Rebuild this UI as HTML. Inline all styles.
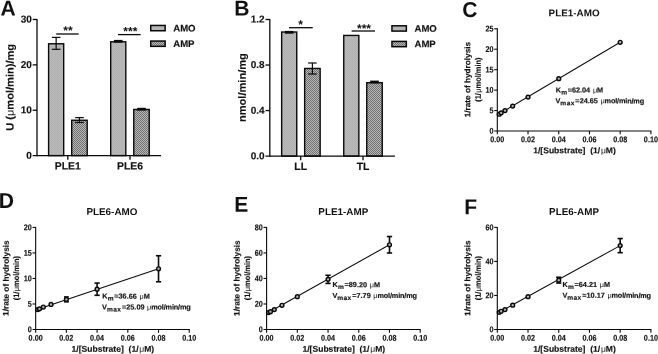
<!DOCTYPE html>
<html><head><meta charset="utf-8"><title>figure</title>
<style>
html,body{margin:0;padding:0;background:#fff;}
body{width:658px;height:354px;overflow:hidden;font-family:"Liberation Sans",sans-serif;}
svg{display:block;will-change:transform;}
svg text{font-family:"Liberation Sans",sans-serif;fill:#111;}
</style></head><body>
<svg width="658" height="354" viewBox="0 0 658 354">
<defs>
<pattern id="amo" width="2" height="2" patternUnits="userSpaceOnUse">
<rect width="2" height="2" fill="#b9b9b9"/><rect width="1" height="1" fill="#b1b1b1"/><rect x="1" y="1" width="1" height="1" fill="#b1b1b1"/>
</pattern>
<pattern id="amp" width="2" height="2" patternUnits="userSpaceOnUse">
<rect width="2" height="2" fill="#b8b8b8"/><rect width="1" height="1" fill="#707070"/><rect x="1" y="1" width="1" height="1" fill="#707070"/>
</pattern>
</defs>
<rect width="658" height="354" fill="#fff"/>

<text transform="translate(0.60,15.60) rotate(0.06) scale(0.98,1)" font-size="21.5" font-weight="bold" text-anchor="start" >A</text>
<text transform="translate(13.60,87.35) rotate(-89.94) scale(1.045,1)" font-size="10.6" font-weight="bold" text-anchor="middle" stroke="#111" stroke-width="0.15">U (<tspan font-weight="normal" stroke="none">&#956;</tspan>mol/min)/mg</text>
<rect x="48.60" y="43.77" width="15.10" height="111.83" fill="url(#amo)" stroke="#0a0a0a" stroke-width="1.4"/>
<line x1="56.15" y1="37.40" x2="56.15" y2="49.30" stroke="#0a0a0a" stroke-width="1.2" stroke-linecap="butt"/>
<line x1="51.85" y1="37.40" x2="60.45" y2="37.40" stroke="#0a0a0a" stroke-width="1.2" stroke-linecap="butt"/>
<line x1="51.85" y1="49.30" x2="60.45" y2="49.30" stroke="#0a0a0a" stroke-width="1.2" stroke-linecap="butt"/>
<rect x="71.70" y="120.26" width="15.50" height="35.34" fill="url(#amp)" stroke="#0a0a0a" stroke-width="1.4"/>
<line x1="79.45" y1="117.60" x2="79.45" y2="122.50" stroke="#0a0a0a" stroke-width="1.2" stroke-linecap="butt"/>
<line x1="75.15" y1="117.60" x2="83.75" y2="117.60" stroke="#0a0a0a" stroke-width="1.2" stroke-linecap="butt"/>
<line x1="75.15" y1="122.50" x2="83.75" y2="122.50" stroke="#0a0a0a" stroke-width="1.2" stroke-linecap="butt"/>
<rect x="110.70" y="41.78" width="15.10" height="113.82" fill="url(#amo)" stroke="#0a0a0a" stroke-width="1.4"/>
<rect x="113.95" y="39.90" width="8.6" height="2.8" fill="#0a0a0a"/>
<rect x="133.75" y="109.46" width="15.50" height="46.14" fill="url(#amp)" stroke="#0a0a0a" stroke-width="1.4"/>
<rect x="137.20" y="107.80" width="8.6" height="2.8" fill="#0a0a0a"/>
<line x1="37.00" y1="18.90" x2="37.00" y2="156.20" stroke="#0a0a0a" stroke-width="1.3" stroke-linecap="butt"/>
<line x1="32.70" y1="155.60" x2="161.10" y2="155.60" stroke="#0a0a0a" stroke-width="1.3" stroke-linecap="butt"/>
<line x1="32.70" y1="19.50" x2="37.00" y2="19.50" stroke="#0a0a0a" stroke-width="1.3" stroke-linecap="butt"/>
<text transform="translate(31.80,22.60) rotate(0.06) scale(1.0,1)" font-size="10" font-weight="bold" text-anchor="end" stroke="#111" stroke-width="0.15">30</text>
<line x1="32.70" y1="64.87" x2="37.00" y2="64.87" stroke="#0a0a0a" stroke-width="1.3" stroke-linecap="butt"/>
<text transform="translate(31.80,67.97) rotate(0.06) scale(1.0,1)" font-size="10" font-weight="bold" text-anchor="end" stroke="#111" stroke-width="0.15">20</text>
<line x1="32.70" y1="110.23" x2="37.00" y2="110.23" stroke="#0a0a0a" stroke-width="1.3" stroke-linecap="butt"/>
<text transform="translate(31.80,113.33) rotate(0.06) scale(1.0,1)" font-size="10" font-weight="bold" text-anchor="end" stroke="#111" stroke-width="0.15">10</text>
<text transform="translate(31.80,158.70) rotate(0.06) scale(1.0,1)" font-size="10" font-weight="bold" text-anchor="end" stroke="#111" stroke-width="0.15">0</text>
<line x1="67.80" y1="155.60" x2="67.80" y2="159.80" stroke="#0a0a0a" stroke-width="1.3" stroke-linecap="butt"/>
<text transform="translate(67.80,169.60) rotate(0.06) scale(1.0,1)" font-size="10.4" font-weight="bold" text-anchor="middle" stroke="#111" stroke-width="0.15">PLE1</text>
<line x1="130.00" y1="155.60" x2="130.00" y2="159.80" stroke="#0a0a0a" stroke-width="1.3" stroke-linecap="butt"/>
<text transform="translate(130.00,169.60) rotate(0.06) scale(1.0,1)" font-size="10.4" font-weight="bold" text-anchor="middle" stroke="#111" stroke-width="0.15">PLE6</text>
<line x1="56.20" y1="34.00" x2="78.70" y2="34.00" stroke="#0a0a0a" stroke-width="1.3" stroke-linecap="butt"/>
<text transform="translate(68.00,34.60) rotate(0.06) scale(1.0,1)" font-size="12" font-weight="bold" text-anchor="middle" >**</text>
<line x1="118.00" y1="34.60" x2="140.60" y2="34.60" stroke="#0a0a0a" stroke-width="1.3" stroke-linecap="butt"/>
<text transform="translate(130.30,35.20) rotate(0.06) scale(1.0,1)" font-size="12" font-weight="bold" text-anchor="middle" >***</text>
<rect x="150.75" y="25.45" width="14.4" height="5.3" fill="url(#amo)" stroke="#0a0a0a" stroke-width="1.5"/>
<rect x="150.75" y="41.05" width="14.4" height="5.3" fill="url(#amp)" stroke="#0a0a0a" stroke-width="1.5"/>
<text transform="translate(173.30,31.40) rotate(0.06) scale(1.0,1)" font-size="9.6" font-weight="bold" text-anchor="start" letter-spacing="-0.05" stroke="#111" stroke-width="0.15">AMO</text>
<text transform="translate(173.30,47.00) rotate(0.06) scale(1.0,1)" font-size="9.6" font-weight="bold" text-anchor="start" letter-spacing="-0.05" stroke="#111" stroke-width="0.15">AMP</text>
<text transform="translate(234.20,15.60) rotate(0.06) scale(0.98,1)" font-size="21.5" font-weight="bold" text-anchor="start" >B</text>
<text transform="translate(245.70,87.60) rotate(-89.94) scale(1.045,1)" font-size="10.6" font-weight="bold" text-anchor="middle" stroke="#111" stroke-width="0.15">nmol/min/mg</text>
<rect x="281.65" y="32.02" width="15.10" height="124.08" fill="url(#amo)" stroke="#0a0a0a" stroke-width="1.4"/>
<rect x="284.90" y="30.90" width="8.6" height="2.8" fill="#0a0a0a"/>
<rect x="304.65" y="68.45" width="15.50" height="87.65" fill="url(#amp)" stroke="#0a0a0a" stroke-width="1.4"/>
<line x1="312.40" y1="63.00" x2="312.40" y2="74.00" stroke="#0a0a0a" stroke-width="1.2" stroke-linecap="butt"/>
<line x1="308.10" y1="63.00" x2="316.70" y2="63.00" stroke="#0a0a0a" stroke-width="1.2" stroke-linecap="butt"/>
<line x1="308.10" y1="74.00" x2="316.70" y2="74.00" stroke="#0a0a0a" stroke-width="1.2" stroke-linecap="butt"/>
<rect x="343.75" y="35.44" width="15.10" height="120.66" fill="url(#amo)" stroke="#0a0a0a" stroke-width="1.4"/>
<rect x="366.75" y="82.68" width="15.50" height="73.42" fill="url(#amp)" stroke="#0a0a0a" stroke-width="1.4"/>
<rect x="370.20" y="80.60" width="8.6" height="2.8" fill="#0a0a0a"/>
<line x1="269.80" y1="18.90" x2="269.80" y2="156.70" stroke="#0a0a0a" stroke-width="1.3" stroke-linecap="butt"/>
<line x1="265.50" y1="156.10" x2="394.90" y2="156.10" stroke="#0a0a0a" stroke-width="1.3" stroke-linecap="butt"/>
<line x1="265.50" y1="19.50" x2="269.80" y2="19.50" stroke="#0a0a0a" stroke-width="1.3" stroke-linecap="butt"/>
<text transform="translate(264.60,22.60) rotate(0.06) scale(1.0,1)" font-size="10" font-weight="bold" text-anchor="end" stroke="#111" stroke-width="0.15">1.2</text>
<line x1="265.50" y1="65.03" x2="269.80" y2="65.03" stroke="#0a0a0a" stroke-width="1.3" stroke-linecap="butt"/>
<text transform="translate(264.60,68.13) rotate(0.06) scale(1.0,1)" font-size="10" font-weight="bold" text-anchor="end" stroke="#111" stroke-width="0.15">0.8</text>
<line x1="265.50" y1="110.57" x2="269.80" y2="110.57" stroke="#0a0a0a" stroke-width="1.3" stroke-linecap="butt"/>
<text transform="translate(264.60,113.67) rotate(0.06) scale(1.0,1)" font-size="10" font-weight="bold" text-anchor="end" stroke="#111" stroke-width="0.15">0.4</text>
<text transform="translate(264.60,159.20) rotate(0.06) scale(1.0,1)" font-size="10" font-weight="bold" text-anchor="end" stroke="#111" stroke-width="0.15">0.0</text>
<line x1="300.70" y1="156.10" x2="300.70" y2="160.30" stroke="#0a0a0a" stroke-width="1.3" stroke-linecap="butt"/>
<text transform="translate(300.70,170.10) rotate(0.06) scale(1.0,1)" font-size="10.4" font-weight="bold" text-anchor="middle" stroke="#111" stroke-width="0.15">LL</text>
<line x1="363.00" y1="156.10" x2="363.00" y2="160.30" stroke="#0a0a0a" stroke-width="1.3" stroke-linecap="butt"/>
<text transform="translate(363.00,170.10) rotate(0.06) scale(1.0,1)" font-size="10.4" font-weight="bold" text-anchor="middle" stroke="#111" stroke-width="0.15">TL</text>
<line x1="289.00" y1="27.70" x2="312.70" y2="27.70" stroke="#0a0a0a" stroke-width="1.3" stroke-linecap="butt"/>
<text transform="translate(300.60,28.60) rotate(0.06) scale(1.0,1)" font-size="12" font-weight="bold" text-anchor="middle" >*</text>
<line x1="351.60" y1="31.00" x2="375.00" y2="31.00" stroke="#0a0a0a" stroke-width="1.3" stroke-linecap="butt"/>
<text transform="translate(364.00,32.40) rotate(0.06) scale(1.0,1)" font-size="12" font-weight="bold" text-anchor="middle" >***</text>
<rect x="391.95" y="25.80" width="14.4" height="5.3" fill="url(#amo)" stroke="#0a0a0a" stroke-width="1.5"/>
<rect x="391.95" y="41.40" width="14.4" height="5.3" fill="url(#amp)" stroke="#0a0a0a" stroke-width="1.5"/>
<text transform="translate(414.50,31.75) rotate(0.06) scale(1.0,1)" font-size="9.6" font-weight="bold" text-anchor="start" letter-spacing="-0.05" stroke="#111" stroke-width="0.15">AMO</text>
<text transform="translate(414.50,47.35) rotate(0.06) scale(1.0,1)" font-size="9.6" font-weight="bold" text-anchor="start" letter-spacing="-0.05" stroke="#111" stroke-width="0.15">AMP</text>
<text transform="translate(462.30,17.10) rotate(0.06) scale(0.98,1)" font-size="21.5" font-weight="bold" text-anchor="start" >C</text>
<text transform="translate(574.10,16.30) rotate(0.06) scale(1.02,1)" font-size="9.7" font-weight="bold" text-anchor="middle" >PLE1-AMO</text>
<text transform="translate(470.30,79.60) rotate(-89.94) scale(1.03,1)" font-size="8.0" font-weight="bold" text-anchor="middle" stroke="#111" stroke-width="0.15">1/rate of hydrolysis</text>
<text transform="translate(480.70,79.60) rotate(-89.94) scale(0.93,1)" font-size="8.0" font-weight="bold" text-anchor="middle" stroke="#111" stroke-width="0.15">(1/<tspan font-weight="normal" stroke="none" dx="0.4">&#956;</tspan>mol/min)</text>
<line x1="497.30" y1="115.06" x2="620.18" y2="42.29" stroke="#0a0a0a" stroke-width="1.05" stroke-linecap="butt"/>
<circle cx="499.22" cy="114.24" r="1.9" fill="#b4b4b4" stroke="#0a0a0a" stroke-width="1.45"/>
<circle cx="501.14" cy="112.81" r="1.9" fill="#b4b4b4" stroke="#0a0a0a" stroke-width="1.45"/>
<circle cx="504.98" cy="110.56" r="1.9" fill="#b4b4b4" stroke="#0a0a0a" stroke-width="1.45"/>
<circle cx="512.66" cy="106.06" r="1.9" fill="#b4b4b4" stroke="#0a0a0a" stroke-width="1.45"/>
<circle cx="528.02" cy="97.07" r="1.9" fill="#b4b4b4" stroke="#0a0a0a" stroke-width="1.45"/>
<circle cx="558.74" cy="78.67" r="1.9" fill="#b4b4b4" stroke="#0a0a0a" stroke-width="1.45"/>
<circle cx="620.18" cy="42.29" r="1.9" fill="#b4b4b4" stroke="#0a0a0a" stroke-width="1.45"/>
<line x1="497.30" y1="28.30" x2="497.30" y2="134.30" stroke="#0a0a0a" stroke-width="1.1" stroke-linecap="butt"/>
<line x1="494.20" y1="131.00" x2="651.40" y2="131.00" stroke="#0a0a0a" stroke-width="1.2" stroke-linecap="butt"/>
<line x1="494.20" y1="28.80" x2="497.30" y2="28.80" stroke="#0a0a0a" stroke-width="1.1" stroke-linecap="butt"/>
<text transform="translate(493.50,31.55) rotate(0.06) scale(0.86,1)" font-size="8.4" font-weight="bold" text-anchor="end" stroke="#111" stroke-width="0.15">25</text>
<line x1="494.20" y1="49.24" x2="497.30" y2="49.24" stroke="#0a0a0a" stroke-width="1.1" stroke-linecap="butt"/>
<text transform="translate(493.50,51.99) rotate(0.06) scale(0.86,1)" font-size="8.4" font-weight="bold" text-anchor="end" stroke="#111" stroke-width="0.15">20</text>
<line x1="494.20" y1="69.68" x2="497.30" y2="69.68" stroke="#0a0a0a" stroke-width="1.1" stroke-linecap="butt"/>
<text transform="translate(493.50,72.43) rotate(0.06) scale(0.86,1)" font-size="8.4" font-weight="bold" text-anchor="end" stroke="#111" stroke-width="0.15">15</text>
<line x1="494.20" y1="90.12" x2="497.30" y2="90.12" stroke="#0a0a0a" stroke-width="1.1" stroke-linecap="butt"/>
<text transform="translate(493.50,92.87) rotate(0.06) scale(0.86,1)" font-size="8.4" font-weight="bold" text-anchor="end" stroke="#111" stroke-width="0.15">10</text>
<line x1="494.20" y1="110.56" x2="497.30" y2="110.56" stroke="#0a0a0a" stroke-width="1.1" stroke-linecap="butt"/>
<text transform="translate(493.50,113.31) rotate(0.06) scale(0.86,1)" font-size="8.4" font-weight="bold" text-anchor="end" stroke="#111" stroke-width="0.15">5</text>
<text transform="translate(493.50,133.75) rotate(0.06) scale(0.86,1)" font-size="8.4" font-weight="bold" text-anchor="end" stroke="#111" stroke-width="0.15">0</text>
<text transform="translate(497.30,142.30) rotate(0.06) scale(0.86,1)" font-size="8.4" font-weight="bold" text-anchor="middle" stroke="#111" stroke-width="0.15">0.00</text>
<line x1="528.02" y1="131.00" x2="528.02" y2="134.30" stroke="#0a0a0a" stroke-width="1.1" stroke-linecap="butt"/>
<text transform="translate(528.02,142.30) rotate(0.06) scale(0.86,1)" font-size="8.4" font-weight="bold" text-anchor="middle" stroke="#111" stroke-width="0.15">0.02</text>
<line x1="558.74" y1="131.00" x2="558.74" y2="134.30" stroke="#0a0a0a" stroke-width="1.1" stroke-linecap="butt"/>
<text transform="translate(558.74,142.30) rotate(0.06) scale(0.86,1)" font-size="8.4" font-weight="bold" text-anchor="middle" stroke="#111" stroke-width="0.15">0.04</text>
<line x1="589.46" y1="131.00" x2="589.46" y2="134.30" stroke="#0a0a0a" stroke-width="1.1" stroke-linecap="butt"/>
<text transform="translate(589.46,142.30) rotate(0.06) scale(0.86,1)" font-size="8.4" font-weight="bold" text-anchor="middle" stroke="#111" stroke-width="0.15">0.06</text>
<line x1="620.18" y1="131.00" x2="620.18" y2="134.30" stroke="#0a0a0a" stroke-width="1.1" stroke-linecap="butt"/>
<text transform="translate(620.18,142.30) rotate(0.06) scale(0.86,1)" font-size="8.4" font-weight="bold" text-anchor="middle" stroke="#111" stroke-width="0.15">0.08</text>
<line x1="650.90" y1="131.00" x2="650.90" y2="134.30" stroke="#0a0a0a" stroke-width="1.1" stroke-linecap="butt"/>
<text transform="translate(650.90,142.30) rotate(0.06) scale(0.86,1)" font-size="8.4" font-weight="bold" text-anchor="middle" stroke="#111" stroke-width="0.15">0.10</text>
<text transform="translate(574.50,153.20) rotate(0.06) scale(1.02,1)" font-size="8.4" font-weight="bold" text-anchor="middle" stroke="#111" stroke-width="0.15">1/[Substrate]&#160;&#160;(1/<tspan font-weight="normal" stroke="none" dx="0.7">&#956;</tspan>M)</text>
<text transform="translate(555.70,92.50) rotate(0.06)" font-size="7.3" font-weight="bold" stroke="#111" stroke-width="0.16">K<tspan font-size="6.6" dy="2.0" dx="0.2" letter-spacing="0">m</tspan><tspan dy="-2.0" dx="0.6">=62.04</tspan><tspan font-weight="normal" stroke="none" dx="2.7">&#956;</tspan><tspan dx="0.0" letter-spacing="0">M</tspan></text>
<text transform="translate(555.50,103.30) rotate(0.06)" font-size="7.3" font-weight="bold" stroke="#111" stroke-width="0.16">V<tspan font-size="6.6" dy="2.0" dx="0.0" letter-spacing="0.4">max</tspan><tspan dy="-2.0" dx="0.6">=24.65</tspan><tspan font-weight="normal" stroke="none" dx="2.6">&#956;</tspan><tspan dx="-0.1" letter-spacing="-0.16">mol/min/mg</tspan></text>
<text transform="translate(-1.20,208.10) rotate(0.06) scale(0.98,1)" font-size="21.5" font-weight="bold" text-anchor="start" >D</text>
<text transform="translate(111.90,214.90) rotate(0.06) scale(1.02,1)" font-size="9.7" font-weight="bold" text-anchor="middle" >PLE6-AMO</text>
<text transform="translate(8.65,278.15) rotate(-89.94) scale(1.03,1)" font-size="8.0" font-weight="bold" text-anchor="middle" stroke="#111" stroke-width="0.15">1/rate of hydrolysis</text>
<text transform="translate(19.05,278.15) rotate(-89.94) scale(0.93,1)" font-size="8.0" font-weight="bold" text-anchor="middle" stroke="#111" stroke-width="0.15">(1/<tspan font-weight="normal" stroke="none" dx="0.4">&#956;</tspan>mol/min)</text>
<line x1="35.65" y1="310.10" x2="158.53" y2="268.75" stroke="#0a0a0a" stroke-width="1.05" stroke-linecap="butt"/>
<circle cx="37.57" cy="309.59" r="1.9" fill="#b4b4b4" stroke="#0a0a0a" stroke-width="1.45"/>
<circle cx="39.49" cy="308.82" r="1.9" fill="#b4b4b4" stroke="#0a0a0a" stroke-width="1.45"/>
<circle cx="43.33" cy="307.04" r="1.9" fill="#b4b4b4" stroke="#0a0a0a" stroke-width="1.45"/>
<circle cx="51.01" cy="304.49" r="1.9" fill="#b4b4b4" stroke="#0a0a0a" stroke-width="1.45"/>
<line x1="66.37" y1="296.93" x2="66.37" y2="301.83" stroke="#0a0a0a" stroke-width="1.6" stroke-linecap="butt"/>
<line x1="63.97" y1="296.93" x2="68.77" y2="296.93" stroke="#0a0a0a" stroke-width="1.6" stroke-linecap="butt"/>
<line x1="63.97" y1="301.83" x2="68.77" y2="301.83" stroke="#0a0a0a" stroke-width="1.6" stroke-linecap="butt"/>
<circle cx="66.37" cy="299.38" r="1.9" fill="#b4b4b4" stroke="#0a0a0a" stroke-width="1.45"/>
<line x1="97.09" y1="283.04" x2="97.09" y2="295.30" stroke="#0a0a0a" stroke-width="1.6" stroke-linecap="butt"/>
<line x1="94.44" y1="283.04" x2="99.74" y2="283.04" stroke="#0a0a0a" stroke-width="1.6" stroke-linecap="butt"/>
<line x1="94.44" y1="295.30" x2="99.74" y2="295.30" stroke="#0a0a0a" stroke-width="1.6" stroke-linecap="butt"/>
<circle cx="97.09" cy="289.17" r="1.9" fill="#b4b4b4" stroke="#0a0a0a" stroke-width="1.45"/>
<line x1="158.53" y1="255.73" x2="158.53" y2="281.77" stroke="#0a0a0a" stroke-width="1.6" stroke-linecap="butt"/>
<line x1="155.88" y1="255.73" x2="161.18" y2="255.73" stroke="#0a0a0a" stroke-width="1.6" stroke-linecap="butt"/>
<line x1="155.88" y1="281.77" x2="161.18" y2="281.77" stroke="#0a0a0a" stroke-width="1.6" stroke-linecap="butt"/>
<circle cx="158.53" cy="268.75" r="1.9" fill="#b4b4b4" stroke="#0a0a0a" stroke-width="1.45"/>
<line x1="35.65" y1="226.90" x2="35.65" y2="332.80" stroke="#0a0a0a" stroke-width="1.1" stroke-linecap="butt"/>
<line x1="32.55" y1="329.50" x2="189.75" y2="329.50" stroke="#0a0a0a" stroke-width="1.2" stroke-linecap="butt"/>
<line x1="32.55" y1="227.40" x2="35.65" y2="227.40" stroke="#0a0a0a" stroke-width="1.1" stroke-linecap="butt"/>
<text transform="translate(31.85,230.15) rotate(0.06) scale(0.86,1)" font-size="8.4" font-weight="bold" text-anchor="end" stroke="#111" stroke-width="0.15">20</text>
<line x1="32.55" y1="252.93" x2="35.65" y2="252.93" stroke="#0a0a0a" stroke-width="1.1" stroke-linecap="butt"/>
<text transform="translate(31.85,255.68) rotate(0.06) scale(0.86,1)" font-size="8.4" font-weight="bold" text-anchor="end" stroke="#111" stroke-width="0.15">15</text>
<line x1="32.55" y1="278.45" x2="35.65" y2="278.45" stroke="#0a0a0a" stroke-width="1.1" stroke-linecap="butt"/>
<text transform="translate(31.85,281.20) rotate(0.06) scale(0.86,1)" font-size="8.4" font-weight="bold" text-anchor="end" stroke="#111" stroke-width="0.15">10</text>
<line x1="32.55" y1="303.98" x2="35.65" y2="303.98" stroke="#0a0a0a" stroke-width="1.1" stroke-linecap="butt"/>
<text transform="translate(31.85,306.73) rotate(0.06) scale(0.86,1)" font-size="8.4" font-weight="bold" text-anchor="end" stroke="#111" stroke-width="0.15">5</text>
<text transform="translate(31.85,332.25) rotate(0.06) scale(0.86,1)" font-size="8.4" font-weight="bold" text-anchor="end" stroke="#111" stroke-width="0.15">0</text>
<text transform="translate(35.65,340.80) rotate(0.06) scale(0.86,1)" font-size="8.4" font-weight="bold" text-anchor="middle" stroke="#111" stroke-width="0.15">0.00</text>
<line x1="66.37" y1="329.50" x2="66.37" y2="332.80" stroke="#0a0a0a" stroke-width="1.1" stroke-linecap="butt"/>
<text transform="translate(66.37,340.80) rotate(0.06) scale(0.86,1)" font-size="8.4" font-weight="bold" text-anchor="middle" stroke="#111" stroke-width="0.15">0.02</text>
<line x1="97.09" y1="329.50" x2="97.09" y2="332.80" stroke="#0a0a0a" stroke-width="1.1" stroke-linecap="butt"/>
<text transform="translate(97.09,340.80) rotate(0.06) scale(0.86,1)" font-size="8.4" font-weight="bold" text-anchor="middle" stroke="#111" stroke-width="0.15">0.04</text>
<line x1="127.81" y1="329.50" x2="127.81" y2="332.80" stroke="#0a0a0a" stroke-width="1.1" stroke-linecap="butt"/>
<text transform="translate(127.81,340.80) rotate(0.06) scale(0.86,1)" font-size="8.4" font-weight="bold" text-anchor="middle" stroke="#111" stroke-width="0.15">0.06</text>
<line x1="158.53" y1="329.50" x2="158.53" y2="332.80" stroke="#0a0a0a" stroke-width="1.1" stroke-linecap="butt"/>
<text transform="translate(158.53,340.80) rotate(0.06) scale(0.86,1)" font-size="8.4" font-weight="bold" text-anchor="middle" stroke="#111" stroke-width="0.15">0.08</text>
<line x1="189.25" y1="329.50" x2="189.25" y2="332.80" stroke="#0a0a0a" stroke-width="1.1" stroke-linecap="butt"/>
<text transform="translate(189.25,340.80) rotate(0.06) scale(0.86,1)" font-size="8.4" font-weight="bold" text-anchor="middle" stroke="#111" stroke-width="0.15">0.10</text>
<text transform="translate(112.85,351.70) rotate(0.06) scale(1.02,1)" font-size="8.4" font-weight="bold" text-anchor="middle" stroke="#111" stroke-width="0.15">1/[Substrate]&#160;&#160;(1/<tspan font-weight="normal" stroke="none" dx="0.7">&#956;</tspan>M)</text>
<text transform="translate(102.30,298.60) rotate(0.06)" font-size="7.3" font-weight="bold" stroke="#111" stroke-width="0.16">K<tspan font-size="6.6" dy="2.0" dx="0.2" letter-spacing="0">m</tspan><tspan dy="-2.0" dx="0.6">=36.66</tspan><tspan font-weight="normal" stroke="none" dx="2.7">&#956;</tspan><tspan dx="0.0" letter-spacing="0">M</tspan></text>
<text transform="translate(102.10,309.40) rotate(0.06)" font-size="7.3" font-weight="bold" stroke="#111" stroke-width="0.16">V<tspan font-size="6.6" dy="2.0" dx="0.0" letter-spacing="0.4">max</tspan><tspan dy="-2.0" dx="0.6">=25.09</tspan><tspan font-weight="normal" stroke="none" dx="2.6">&#956;</tspan><tspan dx="-0.1" letter-spacing="-0.16">mol/min/mg</tspan></text>
<text transform="translate(234.20,211.80) rotate(0.06) scale(0.98,1)" font-size="21.5" font-weight="bold" text-anchor="start" >E</text>
<text transform="translate(343.30,214.90) rotate(0.06) scale(1.02,1)" font-size="9.7" font-weight="bold" text-anchor="middle" >PLE1-AMP</text>
<text transform="translate(239.60,278.15) rotate(-89.94) scale(1.03,1)" font-size="8.0" font-weight="bold" text-anchor="middle" stroke="#111" stroke-width="0.15">1/rate of hydrolysis</text>
<text transform="translate(250.00,278.15) rotate(-89.94) scale(0.93,1)" font-size="8.0" font-weight="bold" text-anchor="middle" stroke="#111" stroke-width="0.15">(1/<tspan font-weight="normal" stroke="none" dx="0.4">&#956;</tspan>mol/min)</text>
<line x1="266.60" y1="313.42" x2="389.48" y2="244.76" stroke="#0a0a0a" stroke-width="1.05" stroke-linecap="butt"/>
<circle cx="268.52" cy="312.53" r="1.9" fill="#b4b4b4" stroke="#0a0a0a" stroke-width="1.45"/>
<circle cx="270.44" cy="311.63" r="1.9" fill="#b4b4b4" stroke="#0a0a0a" stroke-width="1.45"/>
<circle cx="274.28" cy="309.59" r="1.9" fill="#b4b4b4" stroke="#0a0a0a" stroke-width="1.45"/>
<circle cx="281.96" cy="305.25" r="1.9" fill="#b4b4b4" stroke="#0a0a0a" stroke-width="1.45"/>
<circle cx="297.32" cy="296.70" r="1.9" fill="#b4b4b4" stroke="#0a0a0a" stroke-width="1.45"/>
<line x1="328.04" y1="275.26" x2="328.04" y2="283.43" stroke="#0a0a0a" stroke-width="1.6" stroke-linecap="butt"/>
<line x1="325.39" y1="275.26" x2="330.69" y2="275.26" stroke="#0a0a0a" stroke-width="1.6" stroke-linecap="butt"/>
<line x1="325.39" y1="283.43" x2="330.69" y2="283.43" stroke="#0a0a0a" stroke-width="1.6" stroke-linecap="butt"/>
<circle cx="328.04" cy="279.34" r="1.9" fill="#b4b4b4" stroke="#0a0a0a" stroke-width="1.45"/>
<line x1="389.48" y1="236.53" x2="389.48" y2="252.99" stroke="#0a0a0a" stroke-width="1.6" stroke-linecap="butt"/>
<line x1="386.83" y1="236.53" x2="392.13" y2="236.53" stroke="#0a0a0a" stroke-width="1.6" stroke-linecap="butt"/>
<line x1="386.83" y1="252.99" x2="392.13" y2="252.99" stroke="#0a0a0a" stroke-width="1.6" stroke-linecap="butt"/>
<circle cx="389.48" cy="244.76" r="1.9" fill="#b4b4b4" stroke="#0a0a0a" stroke-width="1.45"/>
<line x1="266.60" y1="226.90" x2="266.60" y2="332.80" stroke="#0a0a0a" stroke-width="1.1" stroke-linecap="butt"/>
<line x1="263.50" y1="329.50" x2="420.70" y2="329.50" stroke="#0a0a0a" stroke-width="1.2" stroke-linecap="butt"/>
<line x1="263.50" y1="227.40" x2="266.60" y2="227.40" stroke="#0a0a0a" stroke-width="1.1" stroke-linecap="butt"/>
<text transform="translate(262.80,230.15) rotate(0.06) scale(0.86,1)" font-size="8.4" font-weight="bold" text-anchor="end" stroke="#111" stroke-width="0.15">80</text>
<line x1="263.50" y1="252.93" x2="266.60" y2="252.93" stroke="#0a0a0a" stroke-width="1.1" stroke-linecap="butt"/>
<text transform="translate(262.80,255.68) rotate(0.06) scale(0.86,1)" font-size="8.4" font-weight="bold" text-anchor="end" stroke="#111" stroke-width="0.15">60</text>
<line x1="263.50" y1="278.45" x2="266.60" y2="278.45" stroke="#0a0a0a" stroke-width="1.1" stroke-linecap="butt"/>
<text transform="translate(262.80,281.20) rotate(0.06) scale(0.86,1)" font-size="8.4" font-weight="bold" text-anchor="end" stroke="#111" stroke-width="0.15">40</text>
<line x1="263.50" y1="303.98" x2="266.60" y2="303.98" stroke="#0a0a0a" stroke-width="1.1" stroke-linecap="butt"/>
<text transform="translate(262.80,306.73) rotate(0.06) scale(0.86,1)" font-size="8.4" font-weight="bold" text-anchor="end" stroke="#111" stroke-width="0.15">20</text>
<text transform="translate(262.80,332.25) rotate(0.06) scale(0.86,1)" font-size="8.4" font-weight="bold" text-anchor="end" stroke="#111" stroke-width="0.15">0</text>
<text transform="translate(266.60,340.80) rotate(0.06) scale(0.86,1)" font-size="8.4" font-weight="bold" text-anchor="middle" stroke="#111" stroke-width="0.15">0.00</text>
<line x1="297.32" y1="329.50" x2="297.32" y2="332.80" stroke="#0a0a0a" stroke-width="1.1" stroke-linecap="butt"/>
<text transform="translate(297.32,340.80) rotate(0.06) scale(0.86,1)" font-size="8.4" font-weight="bold" text-anchor="middle" stroke="#111" stroke-width="0.15">0.02</text>
<line x1="328.04" y1="329.50" x2="328.04" y2="332.80" stroke="#0a0a0a" stroke-width="1.1" stroke-linecap="butt"/>
<text transform="translate(328.04,340.80) rotate(0.06) scale(0.86,1)" font-size="8.4" font-weight="bold" text-anchor="middle" stroke="#111" stroke-width="0.15">0.04</text>
<line x1="358.76" y1="329.50" x2="358.76" y2="332.80" stroke="#0a0a0a" stroke-width="1.1" stroke-linecap="butt"/>
<text transform="translate(358.76,340.80) rotate(0.06) scale(0.86,1)" font-size="8.4" font-weight="bold" text-anchor="middle" stroke="#111" stroke-width="0.15">0.06</text>
<line x1="389.48" y1="329.50" x2="389.48" y2="332.80" stroke="#0a0a0a" stroke-width="1.1" stroke-linecap="butt"/>
<text transform="translate(389.48,340.80) rotate(0.06) scale(0.86,1)" font-size="8.4" font-weight="bold" text-anchor="middle" stroke="#111" stroke-width="0.15">0.08</text>
<line x1="420.20" y1="329.50" x2="420.20" y2="332.80" stroke="#0a0a0a" stroke-width="1.1" stroke-linecap="butt"/>
<text transform="translate(420.20,340.80) rotate(0.06) scale(0.86,1)" font-size="8.4" font-weight="bold" text-anchor="middle" stroke="#111" stroke-width="0.15">0.10</text>
<text transform="translate(343.80,351.70) rotate(0.06) scale(1.02,1)" font-size="8.4" font-weight="bold" text-anchor="middle" stroke="#111" stroke-width="0.15">1/[Substrate]&#160;&#160;(1/<tspan font-weight="normal" stroke="none" dx="0.7">&#956;</tspan>M)</text>
<text transform="translate(332.60,287.10) rotate(0.06)" font-size="7.3" font-weight="bold" stroke="#111" stroke-width="0.16">K<tspan font-size="6.6" dy="2.0" dx="0.2" letter-spacing="0">m</tspan><tspan dy="-2.0" dx="0.6">=89.20</tspan><tspan font-weight="normal" stroke="none" dx="2.7">&#956;</tspan><tspan dx="0.0" letter-spacing="0">M</tspan></text>
<text transform="translate(332.40,297.90) rotate(0.06)" font-size="7.3" font-weight="bold" stroke="#111" stroke-width="0.16">V<tspan font-size="6.6" dy="2.0" dx="0.0" letter-spacing="0.4">max</tspan><tspan dy="-2.0" dx="0.6">=7.79</tspan><tspan font-weight="normal" stroke="none" dx="2.6">&#956;</tspan><tspan dx="-0.1" letter-spacing="-0.16">mol/min/mg</tspan></text>
<text transform="translate(464.20,214.20) rotate(0.06) scale(0.98,1)" font-size="21.5" font-weight="bold" text-anchor="start" >F</text>
<text transform="translate(574.10,214.90) rotate(0.06) scale(1.02,1)" font-size="9.7" font-weight="bold" text-anchor="middle" >PLE6-AMP</text>
<text transform="translate(470.30,278.15) rotate(-89.94) scale(1.03,1)" font-size="8.0" font-weight="bold" text-anchor="middle" stroke="#111" stroke-width="0.15">1/rate of hydrolysis</text>
<text transform="translate(480.70,278.15) rotate(-89.94) scale(0.93,1)" font-size="8.0" font-weight="bold" text-anchor="middle" stroke="#111" stroke-width="0.15">(1/<tspan font-weight="normal" stroke="none" dx="0.4">&#956;</tspan>mol/min)</text>
<line x1="497.30" y1="313.33" x2="620.18" y2="245.61" stroke="#0a0a0a" stroke-width="1.05" stroke-linecap="butt"/>
<circle cx="499.22" cy="312.31" r="1.9" fill="#b4b4b4" stroke="#0a0a0a" stroke-width="1.45"/>
<circle cx="501.14" cy="311.29" r="1.9" fill="#b4b4b4" stroke="#0a0a0a" stroke-width="1.45"/>
<circle cx="504.98" cy="309.59" r="1.9" fill="#b4b4b4" stroke="#0a0a0a" stroke-width="1.45"/>
<circle cx="512.66" cy="305.17" r="1.9" fill="#b4b4b4" stroke="#0a0a0a" stroke-width="1.45"/>
<circle cx="528.02" cy="296.66" r="1.9" fill="#b4b4b4" stroke="#0a0a0a" stroke-width="1.45"/>
<line x1="558.74" y1="277.26" x2="558.74" y2="283.04" stroke="#0a0a0a" stroke-width="1.6" stroke-linecap="butt"/>
<line x1="556.09" y1="277.26" x2="561.39" y2="277.26" stroke="#0a0a0a" stroke-width="1.6" stroke-linecap="butt"/>
<line x1="556.09" y1="283.04" x2="561.39" y2="283.04" stroke="#0a0a0a" stroke-width="1.6" stroke-linecap="butt"/>
<circle cx="558.74" cy="280.15" r="1.9" fill="#b4b4b4" stroke="#0a0a0a" stroke-width="1.45"/>
<line x1="620.18" y1="238.55" x2="620.18" y2="252.67" stroke="#0a0a0a" stroke-width="1.6" stroke-linecap="butt"/>
<line x1="617.53" y1="238.55" x2="622.83" y2="238.55" stroke="#0a0a0a" stroke-width="1.6" stroke-linecap="butt"/>
<line x1="617.53" y1="252.67" x2="622.83" y2="252.67" stroke="#0a0a0a" stroke-width="1.6" stroke-linecap="butt"/>
<circle cx="620.18" cy="245.61" r="1.9" fill="#b4b4b4" stroke="#0a0a0a" stroke-width="1.45"/>
<line x1="497.30" y1="226.90" x2="497.30" y2="332.80" stroke="#0a0a0a" stroke-width="1.1" stroke-linecap="butt"/>
<line x1="494.20" y1="329.50" x2="651.40" y2="329.50" stroke="#0a0a0a" stroke-width="1.2" stroke-linecap="butt"/>
<line x1="494.20" y1="227.40" x2="497.30" y2="227.40" stroke="#0a0a0a" stroke-width="1.1" stroke-linecap="butt"/>
<text transform="translate(493.50,230.15) rotate(0.06) scale(0.86,1)" font-size="8.4" font-weight="bold" text-anchor="end" stroke="#111" stroke-width="0.15">60</text>
<line x1="494.20" y1="261.43" x2="497.30" y2="261.43" stroke="#0a0a0a" stroke-width="1.1" stroke-linecap="butt"/>
<text transform="translate(493.50,264.18) rotate(0.06) scale(0.86,1)" font-size="8.4" font-weight="bold" text-anchor="end" stroke="#111" stroke-width="0.15">40</text>
<line x1="494.20" y1="295.47" x2="497.30" y2="295.47" stroke="#0a0a0a" stroke-width="1.1" stroke-linecap="butt"/>
<text transform="translate(493.50,298.22) rotate(0.06) scale(0.86,1)" font-size="8.4" font-weight="bold" text-anchor="end" stroke="#111" stroke-width="0.15">20</text>
<text transform="translate(493.50,332.25) rotate(0.06) scale(0.86,1)" font-size="8.4" font-weight="bold" text-anchor="end" stroke="#111" stroke-width="0.15">0</text>
<text transform="translate(497.30,340.80) rotate(0.06) scale(0.86,1)" font-size="8.4" font-weight="bold" text-anchor="middle" stroke="#111" stroke-width="0.15">0.00</text>
<line x1="528.02" y1="329.50" x2="528.02" y2="332.80" stroke="#0a0a0a" stroke-width="1.1" stroke-linecap="butt"/>
<text transform="translate(528.02,340.80) rotate(0.06) scale(0.86,1)" font-size="8.4" font-weight="bold" text-anchor="middle" stroke="#111" stroke-width="0.15">0.02</text>
<line x1="558.74" y1="329.50" x2="558.74" y2="332.80" stroke="#0a0a0a" stroke-width="1.1" stroke-linecap="butt"/>
<text transform="translate(558.74,340.80) rotate(0.06) scale(0.86,1)" font-size="8.4" font-weight="bold" text-anchor="middle" stroke="#111" stroke-width="0.15">0.04</text>
<line x1="589.46" y1="329.50" x2="589.46" y2="332.80" stroke="#0a0a0a" stroke-width="1.1" stroke-linecap="butt"/>
<text transform="translate(589.46,340.80) rotate(0.06) scale(0.86,1)" font-size="8.4" font-weight="bold" text-anchor="middle" stroke="#111" stroke-width="0.15">0.06</text>
<line x1="620.18" y1="329.50" x2="620.18" y2="332.80" stroke="#0a0a0a" stroke-width="1.1" stroke-linecap="butt"/>
<text transform="translate(620.18,340.80) rotate(0.06) scale(0.86,1)" font-size="8.4" font-weight="bold" text-anchor="middle" stroke="#111" stroke-width="0.15">0.08</text>
<line x1="650.90" y1="329.50" x2="650.90" y2="332.80" stroke="#0a0a0a" stroke-width="1.1" stroke-linecap="butt"/>
<text transform="translate(650.90,340.80) rotate(0.06) scale(0.86,1)" font-size="8.4" font-weight="bold" text-anchor="middle" stroke="#111" stroke-width="0.15">0.10</text>
<text transform="translate(574.50,351.70) rotate(0.06) scale(1.02,1)" font-size="8.4" font-weight="bold" text-anchor="middle" stroke="#111" stroke-width="0.15">1/[Substrate]&#160;&#160;(1/<tspan font-weight="normal" stroke="none" dx="0.7">&#956;</tspan>M)</text>
<text transform="translate(562.60,287.00) rotate(0.06)" font-size="7.3" font-weight="bold" stroke="#111" stroke-width="0.16">K<tspan font-size="6.6" dy="2.0" dx="0.2" letter-spacing="0">m</tspan><tspan dy="-2.0" dx="0.6">=64.21</tspan><tspan font-weight="normal" stroke="none" dx="2.7">&#956;</tspan><tspan dx="0.0" letter-spacing="0">M</tspan></text>
<text transform="translate(562.40,297.80) rotate(0.06)" font-size="7.3" font-weight="bold" stroke="#111" stroke-width="0.16">V<tspan font-size="6.6" dy="2.0" dx="0.0" letter-spacing="0.4">max</tspan><tspan dy="-2.0" dx="0.6">=10.17</tspan><tspan font-weight="normal" stroke="none" dx="2.6">&#956;</tspan><tspan dx="-0.1" letter-spacing="-0.16">mol/min/mg</tspan></text>
</svg></body></html>
